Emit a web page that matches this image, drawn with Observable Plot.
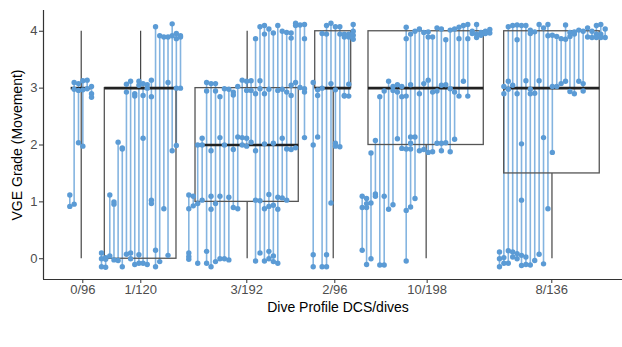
<!DOCTYPE html>
<html><head><meta charset="utf-8">
<script src="https://cdn.jsdelivr.net/npm/d3@7"></script>
<script src="https://cdn.jsdelivr.net/npm/@observablehq/plot@0.6"></script>
<style>body{margin:0;background:#fff}</style>
</head><body><div id="chart"></div>
<script>
// Categories and box statistics
const profiles = ["0/96", "1/120", "3/192", "2/96", "10/198", "8/136"];
const tickPos = [6.86, 16.98, 35.48, 50.84, 66.96, 88.71];
const boxLeft = [4.83, 10.70, 26.53, 47.42, 56.72, 80.40];
const boxRight = [8.33, 23.21, 44.55, 53.70, 76.84, 97.08];
const q1 = [3, 0, 1, 3, 2, 1.5];
const median = [3, 3, 2, 3, 3, 3];
const q3 = [3, 3, 3, 4, 4, 4];
const whiskLo = [0, 0, 0, 0, 0, 0];
const whiskHi = [4, 4, 4, 4, 4, 4];
const yTicks = [0, 1, 2, 3, 4];
// Horizontal spread of the divers within each profile
const spanStart = [4.59, 10.12, 25.36, 47.07, 55.62, 79.58];
const spanEnd = [8.38, 23.91, 45.55, 54.05, 77.89, 98.03];

// Repeated VGE grades per diver (jittered), one array per diver
const grades0_96 = [
  [1.12, 0.92], [3.1, 2.98, 0.96], [3.08, 2.96, 2.04], [3.13, 2.97, 1.98], [3.14, 2.99], [3.03, 2.9, 2.84]
];
const grades1_120 = [
  [0.1, 0.0, -0.14], [0.02, -0.01, -0.15], [1.12, 0.05], [1.0, 0.96, -0.02], [2.05, -0.03],
  [1.95, 1.93, -0.14], [3.07, 2.93, 0.08], [3.12, 0.1, 0.0], [2.9, 2.86, -0.1], [3.12, 3.05, 0.07, -0.08],
  [3.08, 2.87, 2.12, -0.08], [3.06, 3.0, -0.1], [3.14, 2.85, 1.03, 0.97], [4.08, 0.15, -0.14], [3.92, -0.05],
  [3.9, 0.88], [3.9, 3.1, 0.06], [4.13, 3.92, 1.9], [3.96, 3.87, 3.0, 1.99], [3.92, 3.9, 3.0]
];
const grades3_192 = [
  [1.12, 0.88, 0.1, 0.04, -0.01], [1.1, 0.93], [2.0, 0.97, -0.08], [2.12, 2.0, 1.03], [3.1, 2.95, 0.13, -0.08],
  [3.08, 1.9, 1.1, 0.87, -0.14], [3.08, 2.95, 0.97, -0.05], [2.85, 2.13, 1.1, 0.0], [2.99, 2.0, 0.0],
  [2.98, 1.08, -0.02], [2.93, 2.88, 1.92, 0.9], [3.03, 2.14, 0.88], [3.14, 2.13, 2.0], [3.12, 2.96, 2.12, 1.98],
  [3.13, 2.96, 2.05], [3.87, 2.9, 1.9, 1.03, -0.04], [4.08, 3.13, 2.99, 1.02, 0.1], [4.1, 3.95, 2.9, 2.02, 0.88, -0.04],
  [4.04, 2.98, 1.13, 0.92, 0.13, 0.0], [3.97, 2.03, 0.94, 0.05, -0.05], [4.1, 2.96, 1.08, 0.87, -0.08],
  [4.0, 2.98, 2.12, 1.07], [3.98, 2.93, 1.93, 1.03], [3.97, 3.88, 3.05, 2.87, 1.92], [4.14, 4.1, 3.1, 1.95],
  [4.11, 3.01], [4.12, 3.87, 2.99, 2.93, 2.13]
];
const grades2_96 = [
  [3.1, 2.0, 0.07, -0.14], [2.97, 2.87, 2.14], [3.96, 3.0, -0.14], [4.1, 3.95, 0.07, -0.14], [4.14, 3.08, 0.98],
  [4.08, 2.97, 2.03, 1.98], [4.08, 3.95, 1.97], [3.95, 3.9, 2.87, 2.86], [3.95, 3.9, 3.07, 2.86], [4.12, 4.0, 3.93, 3.86]
];
const grades10_198 = [
  [1.1, 0.9, 0.15], [1.06, 0.97, 0.9, -0.1], [1.86, 0.98, 0.0], [2.08, 1.14, 1.1], [2.85, -0.11],
  [2.95, 1.1, -0.11], [3.12, 0.87], [3.03, 2.96, 0.95], [3.06, 2.93, 2.11], [3.03, 2.85, 1.94],
  [4.07, 3.87, 2.86, 1.93, 0.85, -0.04], [3.95, 3.06, 2.14, 2.03, 1.93, 0.91], [4.0, 2.14, 1.06], [4.04, 2.9, 1.9],
  [3.98, 3.08, 1.92], [3.99, 3.9, 3.14, 1.87], [3.9, 2.93, 1.88], [4.06, 2.95, 2.03], [4.04, 3.05, 2.03, 1.9],
  [3.85, 3.06, 2.04], [4.02, 2.99, 1.88], [4.04, 2.93, 2.1], [4.07, 3.87, 2.86], [4.1, 3.12], [4.12, 3.87, 2.86],
  [4.0, 3.96], [4.12, 3.95, 3.89], [3.98, 3.93], [4.0, 3.96], [4.03, 3.97]
];
const grades8_136 = [
  [0.12, 0.0, -0.14], [3.03, 2.9, 0.02, -0.08], [4.08, 3.12, 2.98, 0.14, -0.08], [4.1, 3.05, 0.12, 0.03],
  [4.11, 3.85, 2.9, 0.09, 0.0], [4.1, 2.02, 1.03, 0.06, -0.12], [4.1, 3.13, 0.03, -0.1], [4.02, 3.96, 2.98, 2.9, -0.11],
  [3.99, 2.91, -0.03], [4.12, 3.13, 0.08], [4.06, 2.13, -0.09], [4.12, 3.92, 0.88], [3.93, 3.03, 1.87],
  [3.91, 3.03], [3.87, 3.08], [4.11, 3.86, 3.12], [3.98, 3.91, 2.94], [3.99, 3.95, 2.9], [4.02, 3.12],
  [4.0, 3.08, 2.95], [4.06, 3.9], [4.0, 3.89], [4.1, 3.95, 3.89], [4.12, 3.95, 3.89], [4.04, 3.89]
];

const groups = [grades0_96, grades1_120, grades3_192, grades2_96, grades10_198, grades8_136];
const pts = [], segs = [];
groups.forEach((subs, gi) => {
  const n = subs.length;
  subs.forEach((vals, i) => {
    const x = spanStart[gi] + (n > 1 ? i * (spanEnd[gi] - spanStart[gi]) / (n - 1) : 0);
    segs.push({x, y1: d3.min(vals), y2: d3.max(vals)});
    vals.forEach(v => pts.push({x, y: v}));
  });
});
const boxes = profiles.map((p, i) => ({
  p, x1: boxLeft[i], x2: boxRight[i], xc: (boxLeft[i] + boxRight[i]) / 2,
  q1: q1[i], med: median[i], q3: q3[i], lo: whiskLo[i], hi: whiskHi[i]
}));
const labelOf = new Map(tickPos.map((t, i) => [t, profiles[i]]));
const yMin = -0.365, yMax = 4.365;

const chart = Plot.plot({
  width: 622, height: 347,
  marginLeft: 43, marginRight: 0, marginTop: 10, marginBottom: 68,
  style: {fontFamily: "'Liberation Sans', Arial, sans-serif", fontSize: "13px", background: "#fff"},
  x: {domain: [0, 101.05]},
  y: {domain: [yMin, yMax]},
  marks: [
    Plot.ruleX(boxes, {x: "xc", y1: "q3", y2: "hi", stroke: "#333", strokeWidth: 1.1}),
    Plot.ruleX(boxes, {x: "xc", y1: "lo", y2: "q1", stroke: "#333", strokeWidth: 1.1}),
    Plot.ruleX(segs, {x: "x", y1: "y1", y2: "y2", stroke: "#5b9bd5", strokeOpacity: 0.75, strokeWidth: 1.6}),
    Plot.rect(boxes, {x1: "x1", x2: "x2", y1: "q1", y2: "q3", fill: "none", stroke: "#555", strokeWidth: 1.3}),
    Plot.ruleY(boxes, {y: "med", x1: "x1", x2: "x2", stroke: "#222", strokeWidth: 2.6}),
    Plot.dot(pts, {x: "x", y: "y", r: 2.7, fill: "#5b9bd5"}),
    Plot.ruleX([0], {stroke: "#333", strokeWidth: 1.2}),
    Plot.ruleY([yMin], {stroke: "#333", strokeWidth: 1.2}),
    Plot.axisY(yTicks, {tickSize: 4, tickPadding: 2, stroke: "#333", fill: "#4d4d4d", fontSize: 13, label: null,
      tickFormat: d => String(d)}),
    Plot.axisX(tickPos, {tickSize: 4, tickPadding: 1, stroke: "#333", fill: "#4d4d4d", fontSize: 13, label: null,
      tickFormat: d => labelOf.get(d)}),
    Plot.text(["VGE Grade (Movement)"], {frameAnchor: "left", dx: -26, rotate: -90, textAnchor: "middle",
      lineAnchor: "middle", fontSize: 14, fill: "#000"}),
    Plot.text(["Dive Profile DCS/dives"], {frameAnchor: "bottom", dx: 5, dy: 28, textAnchor: "middle",
      lineAnchor: "middle", fontSize: 14, fill: "#000"})
  ]
});
document.getElementById("chart").appendChild(chart);
</script>
</body></html>
